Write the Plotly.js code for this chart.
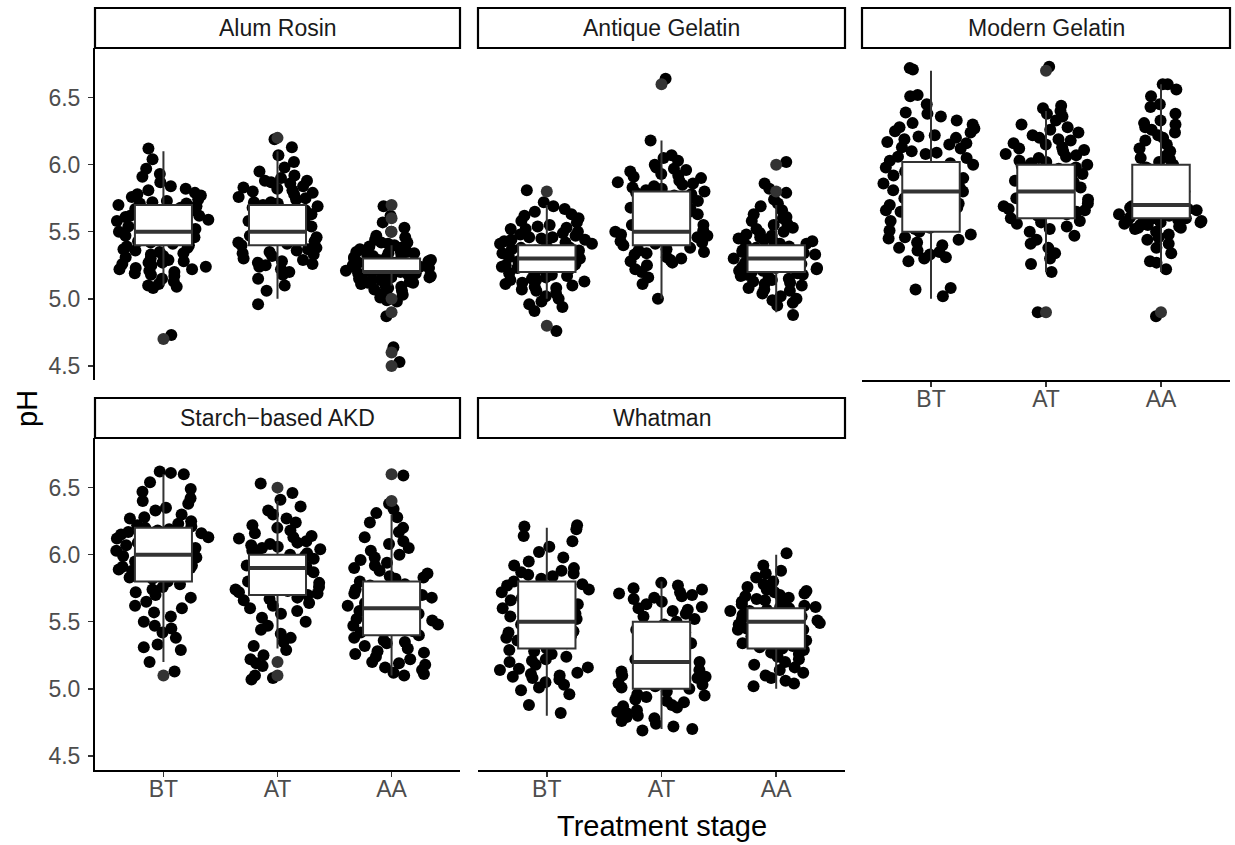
<!DOCTYPE html>
<html>
<head>
<meta charset="utf-8">
<script src="https://cdn.plot.ly/plotly-3.0.1.min.js"></script>
<style>html,body{margin:0;padding:0;background:#fff;}#chart{width:1235px;height:845px;}</style>
</head>
<body>
<div id="chart"></div>
<script>
// ---------- data ----------
const categories = ['BT', 'AT', 'AA'];
const panelNames = ['Alum Rosin', 'Antique Gelatin', 'Modern Gelatin', 'Starch\u2212based AKD', 'Whatman'];
const yTicks = [4.5, 5.0, 5.5, 6.0, 6.5];

// jittered observations (pH) per panel and stage
const alumBT = [6.12,6.04,5.97,5.91,5.93,5.87,5.84,5.82,5.79,5.81,5.76,5.78,5.72,5.74,5.77,5.71,5.69,5.73,5.68,5.66,5.7,5.63,5.67,5.62,5.64,5.59,5.61,5.57,5.6,5.56,5.58,5.53,5.55,5.51,5.54,5.48,5.52,5.47,5.49,5.46,5.5,5.44,5.42,5.45,5.41,5.43,5.38,5.4,5.36,5.39,5.37,5.33,5.35,5.31,5.34,5.29,5.32,5.27,5.3,5.26,5.28,5.24,5.22,5.25,5.21,5.23,5.19,5.2,5.17,5.22,5.18,5.15,5.13,5.11,5.08,5.1,5.09,5.62,5.48,5.71,5.27,5.55,5.66,4.73];
const alumAT = [6.19,6.13,6.07,6.02,5.98,5.95,5.92,5.9,5.88,5.86,5.84,5.87,5.82,5.8,5.83,5.78,5.76,5.79,5.74,5.72,5.75,5.7,5.68,5.71,5.66,5.69,5.64,5.62,5.65,5.6,5.63,5.58,5.61,5.56,5.59,5.54,5.52,5.57,5.5,5.53,5.48,5.51,5.46,5.49,5.44,5.42,5.45,5.4,5.43,5.38,5.41,5.36,5.34,5.37,5.32,5.3,5.33,5.28,5.26,5.29,5.24,5.22,5.25,5.2,5.18,5.15,5.1,5.06,4.96,5.72,5.58,5.81,5.47,5.35,5.66,5.27,5.88,5.55];
const alumAA = [5.69,5.62,5.57,5.53,5.5,5.47,5.46,5.44,5.42,5.41,5.4,5.39,5.38,5.37,5.36,5.35,5.34,5.34,5.33,5.32,5.31,5.3,5.3,5.29,5.28,5.28,5.27,5.26,5.26,5.25,5.24,5.24,5.23,5.22,5.22,5.21,5.2,5.2,5.19,5.18,5.18,5.17,5.16,5.16,5.15,5.14,5.13,5.12,5.11,5.1,5.09,5.08,5.06,5.05,5.03,5.01,4.99,4.98,4.87,4.64,4.53,5.27,5.33,5.21,5.18,5.24,5.36,5.29,5.14,5.31,5.23,5.19,5.42,5.07,5.26,5.35,5.2,5.12];
const antiqueBT = [5.81,5.72,5.69,5.67,5.65,5.63,5.62,5.6,5.58,5.57,5.55,5.54,5.53,5.52,5.5,5.49,5.48,5.47,5.46,5.45,5.44,5.43,5.42,5.41,5.4,5.39,5.38,5.37,5.36,5.35,5.34,5.33,5.32,5.31,5.3,5.29,5.28,5.27,5.26,5.25,5.24,5.23,5.22,5.21,5.2,5.19,5.18,5.17,5.16,5.15,5.14,5.13,5.12,5.11,5.1,5.09,5.08,5.06,5.04,5.02,5.0,4.98,4.96,4.94,4.91,4.76,5.33,5.27,5.41,5.19,5.36,5.23,5.46,5.3,5.14,5.52,5.38,5.07,5.25,5.44];
const antiqueAT = [6.64,6.18,6.07,6.05,6.03,6.0,5.98,5.96,5.95,5.93,5.91,5.9,5.88,5.87,5.85,5.84,5.82,5.81,5.8,5.78,5.77,5.75,5.74,5.72,5.71,5.7,5.68,5.67,5.65,5.64,5.62,5.61,5.6,5.58,5.57,5.55,5.54,5.52,5.51,5.5,5.48,5.47,5.45,5.44,5.42,5.41,5.4,5.38,5.37,5.35,5.34,5.33,5.31,5.3,5.28,5.27,5.25,5.22,5.2,5.16,5.11,5.0,5.92,5.63,5.79,5.46,5.69,5.55,5.86,5.36,5.73,5.49,5.59,5.83,5.43,5.66,5.29,5.97];
const antiqueAA = [6.02,5.86,5.82,5.79,5.74,5.71,5.69,5.66,5.63,5.61,5.6,5.58,5.56,5.55,5.53,5.52,5.5,5.49,5.47,5.46,5.45,5.43,5.42,5.41,5.4,5.39,5.38,5.36,5.35,5.34,5.33,5.32,5.31,5.3,5.29,5.28,5.27,5.26,5.25,5.24,5.23,5.22,5.21,5.2,5.19,5.18,5.17,5.16,5.15,5.14,5.12,5.11,5.1,5.08,5.06,5.04,5.02,5.0,4.99,4.97,4.95,4.88,5.33,5.26,5.44,5.18,5.37,5.29,5.48,5.13,5.23,5.35,5.07,5.41,5.3,5.21];
const modernBT = [6.72,6.71,6.52,6.51,6.45,6.39,6.38,6.36,6.33,6.31,6.3,6.27,6.25,6.24,6.22,6.2,6.19,6.17,6.15,6.13,6.12,6.1,6.08,6.06,6.05,6.03,6.01,6.0,5.98,5.96,5.95,5.93,5.91,5.9,5.88,5.86,5.85,5.83,5.81,5.8,5.78,5.76,5.75,5.73,5.71,5.7,5.68,5.66,5.65,5.63,5.61,5.6,5.58,5.56,5.55,5.53,5.51,5.5,5.48,5.46,5.44,5.42,5.4,5.38,5.35,5.33,5.31,5.3,5.28,5.08,5.07,5.02,6.28,5.92,5.72,6.09,5.57,5.84,6.16,5.64,5.36,5.97,5.45,6.21,5.52];
const modernAT = [6.73,6.44,6.42,6.4,6.38,6.36,6.33,6.3,6.28,6.26,6.24,6.22,6.2,6.18,6.16,6.15,6.13,6.11,6.1,6.08,6.06,6.05,6.03,6.01,6.0,5.98,5.97,5.95,5.93,5.92,5.9,5.89,5.87,5.86,5.84,5.83,5.81,5.8,5.78,5.77,5.75,5.74,5.72,5.71,5.69,5.68,5.66,5.65,5.63,5.62,5.6,5.58,5.56,5.54,5.52,5.5,5.47,5.44,5.41,5.38,5.34,5.3,5.26,5.2,4.9,5.94,6.07,5.79,5.88,6.12,5.73,5.99,5.85,6.02,5.67,5.91,6.19,5.76,5.57];
const modernAA = [6.6,6.6,6.56,6.51,6.45,6.43,6.38,6.33,6.31,6.3,6.28,6.26,6.24,6.22,6.2,6.18,6.15,6.12,6.1,6.07,6.05,6.02,6.0,5.98,5.95,5.93,5.9,5.88,5.85,5.83,5.8,5.78,5.76,5.74,5.72,5.71,5.7,5.69,5.68,5.67,5.66,5.65,5.64,5.63,5.62,5.61,5.6,5.6,5.59,5.58,5.57,5.56,5.55,5.54,5.53,5.52,5.5,5.48,5.46,5.44,5.41,5.38,5.34,5.28,5.27,5.22,4.87,5.62,5.58,5.66,5.55,5.69,5.61,5.57,5.64,5.53,5.75,5.86,6.04];
const starchBT = [6.62,6.61,6.6,6.54,6.49,6.47,6.42,6.4,6.38,6.35,6.33,6.3,6.28,6.27,6.25,6.23,6.22,6.2,6.19,6.17,6.16,6.14,6.13,6.11,6.1,6.08,6.07,6.05,6.04,6.02,6.01,6.0,5.98,5.97,5.95,5.94,5.92,5.91,5.89,5.88,5.86,5.85,5.83,5.82,5.8,5.78,5.76,5.74,5.72,5.7,5.68,5.65,5.62,5.6,5.57,5.54,5.5,5.47,5.45,5.42,5.38,5.33,5.31,5.29,5.2,5.13,6.06,5.93,6.15,5.87,6.21,5.99,6.09,5.84,6.03,5.96,6.18,5.9,6.12];
const starchAT = [6.53,6.46,6.41,6.36,6.33,6.3,6.27,6.24,6.22,6.2,6.18,6.16,6.14,6.12,6.1,6.09,6.07,6.06,6.04,6.03,6.01,6.0,5.99,5.98,5.96,5.95,5.93,5.92,5.91,5.9,5.88,5.87,5.86,5.85,5.83,5.82,5.81,5.8,5.78,5.77,5.76,5.74,5.73,5.71,5.7,5.68,5.66,5.64,5.62,5.6,5.58,5.56,5.53,5.5,5.47,5.44,5.41,5.38,5.35,5.32,5.29,5.25,5.22,5.19,5.17,5.1,5.08,5.07,5.94,5.79,6.05,5.89,5.72,6.13,5.84,5.97,5.67,6.08];
const starchAA = [6.59,6.38,6.34,6.31,6.28,6.24,6.2,6.17,6.13,6.1,6.08,6.05,6.03,6.0,5.98,5.96,5.94,5.92,5.9,5.88,5.86,5.84,5.82,5.8,5.78,5.76,5.74,5.72,5.7,5.68,5.66,5.64,5.62,5.6,5.58,5.56,5.54,5.52,5.5,5.48,5.46,5.44,5.42,5.4,5.38,5.36,5.34,5.32,5.3,5.28,5.26,5.24,5.22,5.2,5.18,5.16,5.14,5.12,5.11,5.1,5.65,5.53,5.71,5.47,5.59,5.35,5.83,5.27,5.61,5.43,5.77,5.19,5.69,5.51];
const whatmanBT = [6.22,6.21,6.19,6.14,6.1,6.06,6.02,5.98,5.95,5.92,5.9,5.88,5.86,5.84,5.82,5.8,5.78,5.76,5.74,5.72,5.7,5.68,5.66,5.64,5.62,5.6,5.58,5.56,5.54,5.52,5.5,5.48,5.46,5.44,5.42,5.4,5.38,5.36,5.34,5.32,5.3,5.28,5.26,5.24,5.22,5.2,5.18,5.16,5.14,5.12,5.1,5.09,5.08,5.07,5.05,5.03,5.01,4.99,4.96,4.88,4.82,5.85,5.71,5.57,5.43,5.29,5.15,5.63,5.77,5.35,5.49,5.87,5.21,5.67,5.11];
const whatmanAT = [5.79,5.77,5.75,5.74,5.72,5.7,5.69,5.67,5.65,5.63,5.61,5.6,5.58,5.56,5.54,5.52,5.5,5.48,5.46,5.44,5.42,5.4,5.38,5.36,5.34,5.32,5.3,5.28,5.26,5.24,5.22,5.2,5.18,5.16,5.14,5.12,5.1,5.08,5.06,5.04,5.02,5.0,4.98,4.96,4.94,4.92,4.9,4.88,4.86,4.84,4.82,4.8,4.78,4.76,4.74,4.72,4.7,4.69,5.71,5.59,5.06,4.95,5.13,4.87,5.01,5.45,5.27,4.83,5.68,4.91,5.03,4.79,5.09];
const whatmanAA = [6.01,5.92,5.88,5.86,5.83,5.8,5.78,5.76,5.74,5.73,5.72,5.7,5.69,5.68,5.66,5.65,5.64,5.62,5.61,5.6,5.59,5.58,5.57,5.56,5.55,5.54,5.53,5.52,5.51,5.5,5.49,5.48,5.47,5.46,5.45,5.44,5.42,5.41,5.4,5.38,5.37,5.36,5.34,5.33,5.32,5.3,5.29,5.27,5.26,5.24,5.22,5.2,5.18,5.16,5.14,5.12,5.1,5.08,5.06,5.04,5.02,5.61,5.47,5.55,5.67,5.39,5.58,5.52,5.71,5.44,5.31,5.63];

// boxplot statistics (BT, AT, AA) per panel
const q1Values = [[5.4,5.4,5.2],[5.2,5.4,5.2],[5.5,5.6,5.6],[5.8,5.7,5.4],[5.3,5.0,5.3]];
const medianValues = [[5.5,5.5,5.2],[5.3,5.5,5.3],[5.8,5.8,5.7],[6.0,5.9,5.6],[5.5,5.2,5.5]];
const q3Values = [[5.7,5.7,5.3],[5.4,5.8,5.4],[6.02,6.0,6.0],[6.2,6.0,5.8],[5.8,5.5,5.6]];
const lowerWhisker = [[5.1,5.0,5.1],[5.0,5.0,4.9],[5.0,5.2,5.2],[5.2,5.3,5.1],[4.8,4.7,5.0]];
const upperWhisker = [[6.1,6.1,5.4],[5.7,6.18,5.7],[6.7,6.4,6.6],[6.6,6.4,6.3],[6.2,5.8,6.0]];

// boxplot outliers: stage labels and values per panel
const outlierStages = [
  ['BT','AT','AA','AA','AA','AA','AA','AA','AA'],
  ['BT','BT','AT','AA','AA'],
  ['AT','AT','AA'],
  ['BT','AT','AT','AT','AA','AA'],
  []
];
const outlierValues = [
  [4.7,6.2,5.7,5.6,5.5,5.0,4.9,4.6,4.5],
  [5.8,4.8,6.6,6.0,5.8],
  [6.7,4.9,4.9],
  [5.1,6.5,5.2,5.1,6.6,6.4],
  []
];

const observations = [
  [alumBT, alumAT, alumAA],
  [antiqueBT, antiqueAT, antiqueAA],
  [modernBT, modernAT, modernAA],
  [starchBT, starchAT, starchAA],
  [whatmanBT, whatmanAT, whatmanAA]
];

// ---------- layout geometry (pixels) ----------
const W = 1235, H = 845;
const colX = [[95, 460], [478, 845], [862, 1230]];
const rowY = [[48, 380], [438, 770]]; // plot area top/bottom
const stripH = 40;
const panelPos = [[0,0],[0,1],[0,2],[1,0],[1,1]]; // [row, col]
const showXTicks = [false, false, true, true, true];
const showYTicks = [true, false, false, true, false];
const FONT = 'Liberation Sans, Arial, sans-serif';

const px = v => v / W;
const py = v => 1 - v / H;

const traces = [];
const layout = {
  width: W, height: H,
  margin: {l: 0, r: 0, t: 0, b: 0},
  paper_bgcolor: '#fff', plot_bgcolor: '#fff',
  showlegend: false,
  boxmode: 'overlay',
  font: {family: FONT, color: '#1a1a1a'},
  shapes: [], annotations: []
};

panelNames.forEach((name, i) => {
  const [r, c] = panelPos[i];
  const xa = 'x' + (i + 1), ya = 'y' + (i + 1);
  const xk = 'xaxis' + (i + 1), yk = 'yaxis' + (i + 1);

  // jittered points
  const xs = [], ys = [];
  categories.forEach((cat, j) => {
    observations[i][j].forEach(v => { xs.push(cat); ys.push(v); });
  });
  traces.push({
    type: 'box', x: xs, y: ys, xaxis: xa, yaxis: ya,
    boxpoints: 'all', jitter: 1, pointpos: 0, width: 0.84,
    fillcolor: 'rgba(0,0,0,0)', line: {color: 'rgba(0,0,0,0)', width: 0},
    whiskerwidth: 0,
    marker: {color: '#000', size: 12, line: {width: 0}},
    hoverinfo: 'skip'
  });
  // boxes
  traces.push({
    type: 'box', x: categories, xaxis: xa, yaxis: ya,
    q1: q1Values[i], median: medianValues[i], q3: q3Values[i],
    lowerfence: lowerWhisker[i], upperfence: upperWhisker[i],
    boxpoints: false, width: 0.5, whiskerwidth: 0,
    fillcolor: '#ffffff', line: {color: '#333333', width: 2},
    hoverinfo: 'skip'
  });
  // thick median
  traces.push({
    type: 'box', x: categories, xaxis: xa, yaxis: ya,
    q1: medianValues[i], median: medianValues[i], q3: medianValues[i],
    lowerfence: medianValues[i], upperfence: medianValues[i],
    boxpoints: false, width: 0.5, whiskerwidth: 0,
    fillcolor: 'rgba(0,0,0,0)', line: {color: '#333333', width: 4},
    hoverinfo: 'skip'
  });
  // outliers
  traces.push({
    type: 'scatter', mode: 'markers', x: outlierStages[i], y: outlierValues[i],
    xaxis: xa, yaxis: ya,
    marker: {color: '#333333', size: 12},
    hoverinfo: 'skip'
  });

  const x0 = colX[c][0], x1 = colX[c][1];
  const y0 = rowY[r][0], y1 = rowY[r][1];
  layout[xk] = {
    domain: [px(x0), px(x1)], anchor: ya,
    type: 'category', categoryorder: 'array', categoryarray: categories,
    range: [-0.6, 2.6], fixedrange: true,
    showgrid: false, zeroline: false,
    showline: showXTicks[i], linecolor: '#000', linewidth: 2,
    ticks: showXTicks[i] ? 'outside' : '', ticklen: 5, tickwidth: 1.4, tickcolor: '#333',
    showticklabels: showXTicks[i], ticklabelstandoff: -8,
    tickfont: {size: 23, color: '#4d4d4d', family: FONT}
  };
  layout[yk] = {
    domain: [py(y1), py(y0)], anchor: xa,
    range: [4.395, 6.87], fixedrange: true,
    tickvals: yTicks, ticktext: yTicks.map(v => v.toFixed(1)),
    showgrid: false, zeroline: false,
    showline: showYTicks[i], linecolor: '#000', linewidth: 2,
    ticks: showYTicks[i] ? 'outside' : '', ticklen: 5, tickwidth: 1.4, tickcolor: '#333',
    showticklabels: showYTicks[i], ticklabelstandoff: 3,
    tickfont: {size: 23, color: '#4d4d4d', family: FONT}
  };

  // strip
  layout.shapes.push({
    type: 'rect', xref: 'paper', yref: 'paper',
    x0: px(x0), x1: px(x1), y0: py(y0), y1: py(y0 - stripH),
    fillcolor: '#fff', line: {color: '#000', width: 2.2}
  });
  layout.annotations.push({
    xref: 'paper', yref: 'paper', x: px((x0 + x1) / 2), y: py(y0 - stripH / 2),
    text: name, showarrow: false, xanchor: 'center', yanchor: 'middle',
    font: {size: 23, color: '#1a1a1a', family: FONT}
  });
});

layout.annotations.push({
  xref: 'paper', yref: 'paper', x: px(662), y: py(826),
  text: 'Treatment stage', showarrow: false, xanchor: 'center', yanchor: 'middle',
  font: {size: 29, color: '#000', family: FONT}
});
layout.annotations.push({
  xref: 'paper', yref: 'paper', x: px(27), y: py(409),
  text: 'pH', showarrow: false, textangle: -90, xanchor: 'center', yanchor: 'middle',
  font: {size: 29, color: '#000', family: FONT}
});

Plotly.newPlot('chart', traces, layout, {staticPlot: true, displayModeBar: false});
</script>
</body>
</html>
